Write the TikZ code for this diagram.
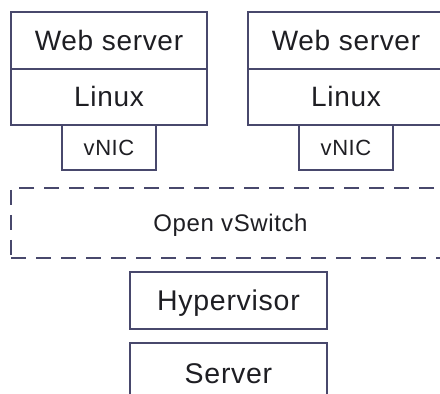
\documentclass[tikz,border=0pt]{standalone}
\usepackage{fontspec}
\setmainfont{Liberation Sans}[LetterSpace=2.5]
\definecolor{edge}{RGB}{72,72,108}
\definecolor{ink}{RGB}{30,30,35}
\tikzset{
  box/.style={draw=edge, line width=1.1pt, rectangle, inner sep=0pt, text=ink, text depth=0pt, anchor=center},
  bigtxt/.style={font=\fontsize{28}{30}\selectfont, text height=20pt},
  hyptxt/.style={font=\fontsize{28.5}{31}\selectfont, text height=20.4pt},
  nictxt/.style={font=\fontsize{22}{24}\selectfont, text height=15.7pt},
  ovstxt/.style={font=\fontsize{24}{27}\selectfont, text height=17.2pt},
  dashbox/.style={box, dash pattern=on 15pt off 10pt}
}
\begin{document}
\begin{tikzpicture}[x=1pt,y=1pt]
\useasboundingbox (0,0) rectangle (440,394);
\clip (0,0) rectangle (440,394);
\fill[white] (0,0) rectangle (440,394);
% left stack
\node[box, bigtxt, minimum width=196pt, minimum height=57pt] (ws1) at (109,353.5) {Web server};
\node[box, bigtxt, minimum width=196pt, minimum height=56pt] (lx1) at (109,297) {Linux};
\node[box, nictxt, minimum width=94pt, minimum height=45pt] (nic1) at (109,246.5) {vNIC};
% right stack
\node[box, bigtxt, minimum width=196pt, minimum height=57pt] (ws2) at (346,353.5) {Web server};
\node[box, bigtxt, minimum width=196pt, minimum height=56pt] (lx2) at (346,297) {Linux};
\node[box, nictxt, minimum width=94pt, minimum height=45pt] (nic2) at (346,246.5) {vNIC};
% open vswitch
\node[dashbox, ovstxt, minimum width=439pt, minimum height=70pt] (ovs) at (230.5,171) {Open vSwitch};
% hypervisor & server
\node[box, hyptxt, minimum width=197pt, minimum height=57pt] (hyp) at (228.5,93.5) {Hypervisor};
\node[box, hyptxt, minimum width=197pt, minimum height=60pt] (srv) at (228.5,21) {Server};
\end{tikzpicture}
\end{document}
